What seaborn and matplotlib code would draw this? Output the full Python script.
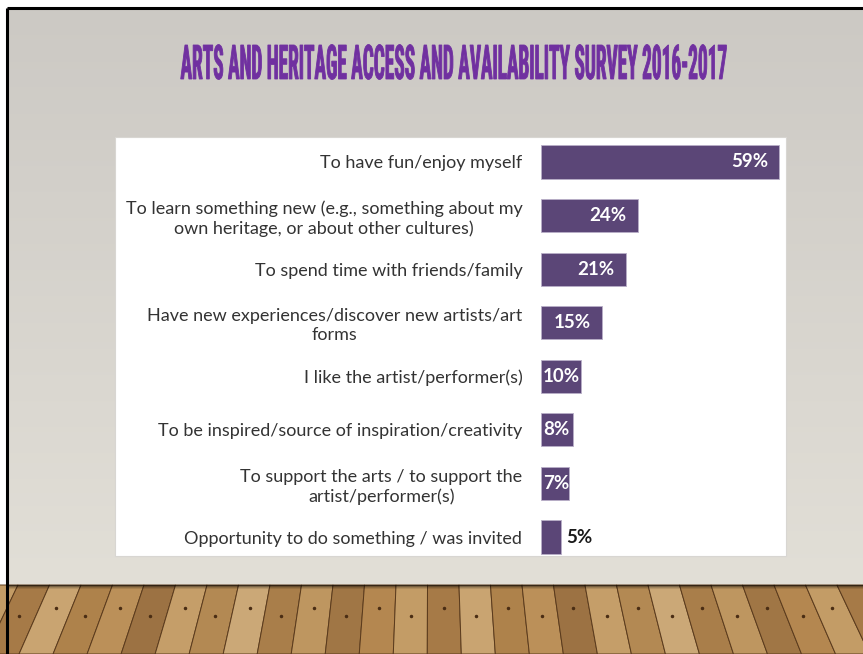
import numpy as np
import pandas as pd
import matplotlib
matplotlib.use("Agg")
import matplotlib.pyplot as plt
from matplotlib import font_manager
from matplotlib.patches import Rectangle, Polygon
from matplotlib.patheffects import AbstractPathEffect
from matplotlib.transforms import Affine2D
import seaborn as sns

# Survey data: reasons for attending and share of respondents (%)
reasons = [
    "To have fun/enjoy myself",
    "To learn something new (e.g., something about my\nown heritage, or about other cultures)",
    "To spend time with friends/family",
    "Have new experiences/discover new artists/art\nforms",
    "I like the artist/performer(s)",
    "To be inspired/source of inspiration/creativity",
    "To support the arts / to support the\nartist/performer(s)",
    "Opportunity to do something / was invited",
]
shares = [59, 24, 21, 15, 10, 8, 7, 5]
title_text = "ARTS AND HERITAGE ACCESS AND AVAILABILITY SURVEY 2016-2017"

df = pd.DataFrame({"reason": reasons, "share": shares})

sns.set_theme(style="white")
plt.rcParams["font.family"] = ["Lato", "DejaVu Sans"]

W, H = 863, 654
fig = plt.figure(figsize=(W / 100, H / 100), dpi=100)
fig.patch.set_facecolor("white")

# ---- slide background: gray gradient wall + wooden floor ----
bg = fig.add_axes([0, 0, 1, 1], zorder=0)
bg.set_xlim(0, W)
bg.set_ylim(H, 0)
bg.axis("off")

wall_top = np.array([204, 201, 196]) / 255
wall_bot = np.array([226, 223, 215]) / 255
t = np.linspace(0, 1, 256)[:, None, None]
grad = wall_top * (1 - t) + wall_bot * t
bg.imshow(grad, extent=(7, W, 585, 8), aspect="auto", zorder=0)

floor_top, floor_bot = 585, H
plank_cols = ["#b48750", "#c39c66", "#a67a47", "#c9a471", "#ae824b", "#bb9059",
              "#9c7243", "#c59e69", "#b38953", "#cba877", "#a97e4a", "#be9660",
              "#a07645"]
cx = 430
top_x = np.arange(-45, 905, 31.5)
spread = 1.08
for i in range(len(top_x) - 1):
    t0, t1 = top_x[i], top_x[i + 1]
    b0, b1 = cx + (t0 - cx) * spread, cx + (t1 - cx) * spread
    poly = Polygon([(b0, floor_bot), (b1, floor_bot), (t1, floor_top), (t0, floor_top)],
                   closed=True, facecolor=plank_cols[i % len(plank_cols)],
                   edgecolor="#5a3a1c", linewidth=0.7, zorder=1)
    bg.add_patch(poly)
    # nail heads
    yy = floor_top + (floor_bot - floor_top) * (0.33 if i % 2 else 0.45)
    s = (yy - floor_top) / (floor_bot - floor_top)
    xl = t0 + (b0 - t0) * s
    xr = t1 + (b1 - t1) * s
    bg.plot([xl + (xr - xl) * 0.5], [yy], marker="o", ms=1.5,
            color="#4a2d14", zorder=2)
# shadow at the base of the wall
for j, a in enumerate([0.6, 0.4, 0.22, 0.1]):
    bg.add_patch(Rectangle((7, floor_top + j), W, 1, facecolor="black",
                           alpha=a, edgecolor="none", zorder=3))

# slide frame
bg.plot([7, 7], [8, H], color="black", lw=2.2, zorder=5, solid_capstyle="butt")
bg.plot([7, W], [8, 8], color="black", lw=2.2, zorder=5, solid_capstyle="butt")

# white chart panel
bg.add_patch(Rectangle((115, 137), 671, 419, facecolor="white",
                       edgecolor="#d8d6d2", linewidth=0.8, zorder=4))


# ---- title: tall, very narrow display lettering ----
def _has_font(fp):
    try:
        font_manager.findfont(fp, fallback_to_default=False)
        return True
    except Exception:
        return False


title_fp = None
for fam in ["Roboto Condensed", "Liberation Sans Narrow", "Open Sans Condensed"]:
    fp = font_manager.FontProperties(family=fam, weight="bold")
    if _has_font(fp):
        title_fp = fp
        break
if title_fp is None:
    title_fp = font_manager.FontProperties(family="Roboto", weight="bold")


class TallLettering(AbstractPathEffect):
    """Stretch glyphs vertically about the baseline and thicken their strokes."""

    def __init__(self, baseline_px, sy, stroke_pt):
        super().__init__()
        self.baseline_px = baseline_px
        self.sy = sy
        self.stroke_pt = stroke_pt

    def draw_path(self, renderer, gc, tpath, affine, rgbFace=None):
        aff = affine + Affine2D().translate(0, -self.baseline_px) \
            .scale(1, self.sy).translate(0, self.baseline_px)
        gc0 = renderer.new_gc()
        gc0.copy_properties(gc)
        gc0.set_linewidth(self.stroke_pt)
        if rgbFace is not None:
            gc0.set_foreground(rgbFace)
        gc0.set_joinstyle("miter")
        renderer.draw_path(gc0, tpath, aff, rgbFace)
        gc0.restore()


title_baseline = 79      # px from the top of the slide
title_cap = 34           # cap height in px
title = fig.text(454 / W, 1 - title_baseline / H, title_text, ha="center",
                 va="baseline", color="#7030a0", fontproperties=title_fp, zorder=10)
title.set_fontsize(30)
renderer = fig.canvas.get_renderer()
tw = title.get_window_extent(renderer).width
fs = 30 * 546 / tw
title.set_fontsize(fs)
cap_px = 0.711 * fs * 100 / 72
title.set_path_effects([TallLettering(H - title_baseline, title_cap / cap_px, 0.6)])

# ---- bar chart ----
ax_left, ax_right = 541, 786
ax_top, ax_bottom = 135.2, 563.8
ax = fig.add_axes([ax_left / W, 1 - ax_bottom / H,
                   (ax_right - ax_left) / W, (ax_bottom - ax_top) / H], zorder=6)
ax.patch.set_alpha(0)

bar_color = "#5b4677"
sns.barplot(data=df, y="reason", x="share", orient="h", color=bar_color,
            width=0.62, saturation=1, ax=ax, edgecolor="#b9aec8", linewidth=0.6)

px_per_unit = 238 / 59.0
ax.set_xlim(0, (ax_right - ax_left) / px_per_unit)
ax.set_ylim(len(reasons) - 0.5, -0.5)
ax.set_xlabel("")
ax.set_ylabel("")
ax.set_xticks([])
for s in ax.spines.values():
    s.set_visible(False)
ax.tick_params(axis="y", length=0, pad=13.5)
for lab in ax.get_yticklabels():
    lab.set_fontsize(13)
    lab.set_color("#333333")
    lab.set_multialignment("center")
    lab.set_linespacing(1.25)

pad_u = 11 / px_per_unit
lab_w_u = 36 / px_per_unit
for i, v in enumerate(shares):
    txt = f"{v}%"
    if v <= 5:
        ax.text(v + 5 / px_per_unit, i, txt, ha="left", va="center",
                color="#1a1a1a", fontsize=13.5, fontweight="bold")
    elif v - pad_u - lab_w_u < 0.5:
        ax.text(2 / px_per_unit, i, txt, ha="left", va="center",
                color="white", fontsize=13.5, fontweight="bold")
    else:
        ax.text(v - pad_u, i, txt, ha="right", va="center",
                color="white", fontsize=13.5, fontweight="bold")

fig.savefig("out.png", dpi=100)
